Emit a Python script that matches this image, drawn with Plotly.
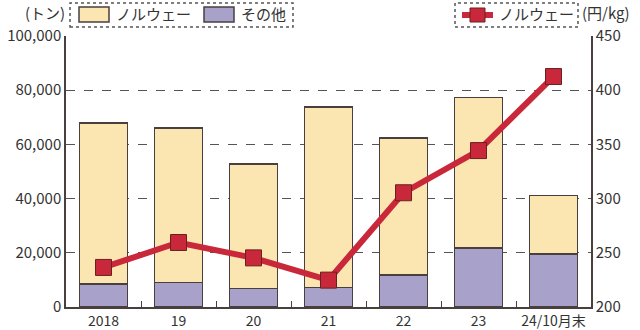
import plotly.graph_objects as go

years = ["2018", "19", "20", "21", "22", "23", "24/10月末"]
other = [8.5, 9.1, 6.9, 7.2, 11.8, 21.8, 19.6]          # thousand tonnes
total = [67.9, 66.1, 52.8, 73.8, 62.4, 77.3, 41.2]       # thousand tonnes
norway = [round((t - o) * 1000) for t, o in zip(total, other)]
other_t = [round(o * 1000) for o in other]
price = [236.5, 259.5, 245.3, 224.8, 305.4, 344.3, 412.6]  # yen/kg

W, H = 640, 330
L, R, T, B = 66, 591, 36, 307

def px(x):
    return (x - L) / (R - L)

def py(y):
    return (B - y) / (B - T)

YEL = "#fbe6b2"
PUR = "#a8a2ca"
RED = "#c9283a"
EDGE = "#4a3f3f"
FONT = "Noto Sans CJK JP"
TXT = "#333"

fig = go.Figure()
fig.add_bar(x=years, y=other_t, marker=dict(color=PUR, line=dict(color=EDGE, width=1.5)), name="その他")
fig.add_bar(x=years, y=norway, marker=dict(color=YEL, line=dict(color=EDGE, width=1.5)), name="ノルウェー")
fig.add_scatter(x=years, y=price, yaxis="y2", mode="lines+markers",
                line=dict(color=RED, width=6),
                marker=dict(symbol="square", size=16, color=RED, line=dict(color="#6a2020", width=1)),
                name="ノルウェー価格")

shapes = []
annotations = []

def label(text, x, anchor="left", y=14):
    annotations.append(dict(text=text, xref="paper", yref="paper", x=px(x), y=py(y), xanchor=anchor,
                            yanchor="middle", showarrow=False, font=dict(size=15, color=TXT, family=FONT)))

# left legend
shapes.append(dict(type="rect", xref="paper", yref="paper", x0=px(70), x1=px(293), y0=py(27), y1=py(3),
                   line=dict(color="#555", width=1.5, dash="dot")))
shapes.append(dict(type="rect", xref="paper", yref="paper", x0=px(79), x1=px(109), y0=py(22), y1=py(7),
                   fillcolor=YEL, line=dict(color=EDGE, width=1.5)))
shapes.append(dict(type="rect", xref="paper", yref="paper", x0=px(204), x1=px(234), y0=py(22), y1=py(7),
                   fillcolor=PUR, line=dict(color=EDGE, width=1.5)))
label("ノルウェー", 114)
label("その他", 239)
label("(トン)", 67, "right", 12)
# right legend
shapes.append(dict(type="rect", xref="paper", yref="paper", x0=px(455), x1=px(578), y0=py(27), y1=py(3),
                   line=dict(color="#555", width=1.5, dash="dot")))
shapes.append(dict(type="line", xref="paper", yref="paper", x0=px(462), x1=px(493), y0=py(15), y1=py(15),
                   line=dict(color=RED, width=6)))
shapes.append(dict(type="rect", xref="paper", yref="paper", x0=px(470), x1=px(485), y0=py(22), y1=py(8),
                   fillcolor=RED, line=dict(color="#6a2020", width=1)))
label("ノルウェー", 497)
label("(円/kg)", 580, "left", 12)

fig.update_layout(
    width=W, height=H,
    margin=dict(l=L, r=W - R, t=T, b=H - B, autoexpand=False),
    barmode="stack", bargap=0.36,
    plot_bgcolor="white", paper_bgcolor="white",
    showlegend=False,
    font=dict(family=FONT, size=15, color=TXT),
    xaxis=dict(type="category", showline=True, linecolor=EDGE, linewidth=1.5, mirror=False,
               ticks="inside", tickson="boundaries", ticklen=6, tickcolor=EDGE, tickwidth=1,
               showgrid=False, tickangle=0, automargin=False, tickfont=dict(size=14)),
    yaxis=dict(range=[0, 100000], dtick=20000, tickformat=",d", showline=True, linecolor=EDGE,
               linewidth=1.5, mirror=True, showgrid=True, gridcolor="#555", griddash="dash", gridwidth=1,
               zeroline=False, ticks="", automargin=False, tickfont=dict(size=15)),
    yaxis2=dict(range=[200, 450], dtick=50, overlaying="y", side="right", showline=True,
                linecolor=EDGE, linewidth=1.5, showgrid=False, zeroline=False, ticks="",
                automargin=False, tickfont=dict(size=15)),
    shapes=shapes, annotations=annotations,
)

fig.write_html("out.html")
